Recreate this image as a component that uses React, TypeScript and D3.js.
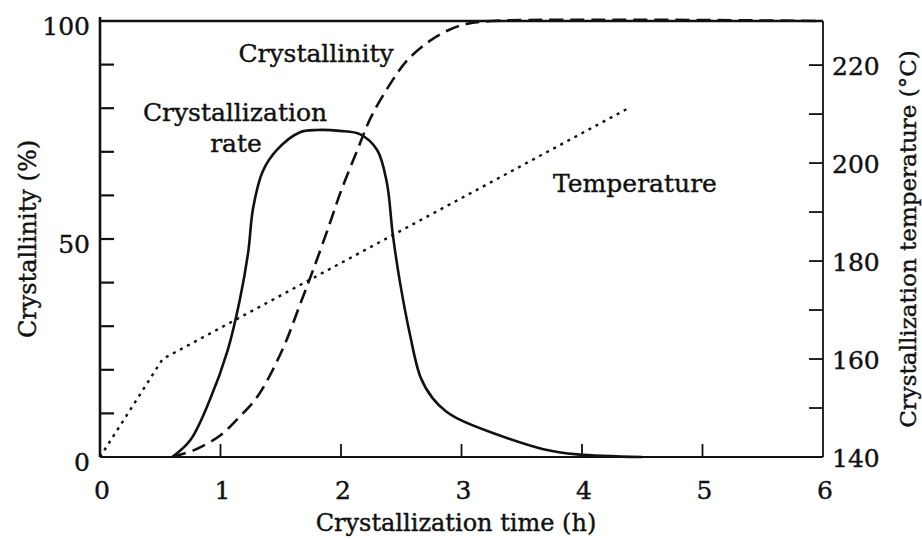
import React, { useEffect, useRef } from 'react';
import * as d3 from 'd3';

// x axis (h)
const timeTicks = [0, 1, 2, 3, 4, 5, 6];
// left axis (%)
const crystLabels = [0, 50, 100];
const crystMinor = [10, 20, 30, 40, 50, 60, 70, 80, 90];
// right axis (°C)
const tempLabels = [140, 160, 180, 200, 220];
const tempMinor = [150, 160, 170, 180, 190, 200, 210, 220];

// crystallinity, dashed
const crystTime = [0.6, 0.8, 1.0, 1.15, 1.31, 1.52, 1.66, 1.77, 1.9, 2.0, 2.13, 2.25, 2.43, 2.55, 2.74, 2.9, 3.04, 3.25, 6];
const crystValue = [0, 1.8, 5, 9, 14, 25, 35, 43, 53, 61, 70, 78, 86.5, 91, 95.5, 98, 99.3, 100, 100];

// crystallization rate, solid (same % scale)
const rateTime = [0.6, 0.75, 0.91, 1.06, 1.16, 1.23, 1.27, 1.35, 1.47, 1.66, 1.8, 1.99, 2.16, 2.3, 2.38, 2.43, 2.49, 2.57, 2.66, 2.76, 2.87, 2.99, 3.26, 3.68, 3.96, 4.5];
const rateValue = [0, 3.9, 13, 24.5, 36, 47, 57, 65.5, 70.5, 74.5, 75, 74.8, 74, 70.4, 63, 51, 40, 28.4, 18.3, 13.5, 10.5, 8.5, 5.5, 1.8, 0.6, 0];

// crystallization temperature, dotted
const tempTime = [0, 0.52, 4.37];
const tempValue = [140, 160, 211];

const W = 922;
const H = 540;
const font = '"DejaVu Serif", serif';

export default function App() {
  const svgRef = useRef<SVGSVGElement>(null);

  useEffect(() => {
    if (!svgRef.current) return;
    const svg = d3.select(svgRef.current);
    svg.selectAll('*').remove();

    const left = 100, right = 823, top = 21, bottom = 457;

    const x = d3.scaleLinear().domain([0, 6]).range([left, right]);
    const y = d3.scaleLinear().domain([0, 100]).range([bottom, top]);
    const yT = d3.scaleLinear().domain([140, 229]).range([bottom, top]);

    svg.append('rect').attr('width', W).attr('height', H).attr('fill', '#fff');

    const g = svg.append('g').attr('fill', 'none').attr('stroke', '#111');

    // frame
    g.append('line').attr('x1', left).attr('x2', left).attr('y1', top - 4).attr('y2', bottom).attr('stroke-width', 2.6);
    g.append('line').attr('x1', left).attr('x2', right).attr('y1', bottom).attr('y2', bottom).attr('stroke-width', 2.2);
    g.append('line').attr('x1', left).attr('x2', right).attr('y1', top).attr('y2', top).attr('stroke-width', 2.6);
    g.append('line').attr('x1', right).attr('x2', right).attr('y1', top).attr('y2', bottom).attr('stroke-width', 1.8);

    // inward ticks
    g.selectAll('.xt').data(timeTicks.slice(1, -1)).enter().append('line')
      .attr('x1', d => x(d)).attr('x2', d => x(d))
      .attr('y1', bottom).attr('y2', bottom - 13).attr('stroke-width', 1.8);
    g.selectAll('.yt').data(crystMinor).enter().append('line')
      .attr('x1', left).attr('x2', left + 14)
      .attr('y1', d => y(d)).attr('y2', d => y(d)).attr('stroke-width', 2.2);
    g.selectAll('.tt').data(tempMinor).enter().append('line')
      .attr('x1', right).attr('x2', right - 14)
      .attr('y1', d => yT(d)).attr('y2', d => yT(d)).attr('stroke-width', 1.8);

    // curves
    const line = d3.line<[number, number]>().curve(d3.curveCatmullRom.alpha(0.5));

    g.append('path')
      .attr('d', line(d3.zip(crystTime, crystValue).map(([t, v]) => [x(t), y(v)] as [number, number])))
      .attr('stroke-width', 2.6).attr('stroke-dasharray', '14,7');

    g.append('path')
      .attr('d', line(d3.zip(rateTime, rateValue).map(([t, v]) => [x(t), y(v)] as [number, number])))
      .attr('stroke-width', 2.6);

    g.append('path')
      .attr('d', d3.line()(d3.zip(tempTime, tempValue).map(([t, v]) => [x(t), yT(v)] as [number, number])))
      .attr('stroke-width', 2.4).attr('stroke-dasharray', '3,5');

    // text, slightly heavy like the printed original
    const txt = svg.append('g').attr('fill', '#111')
      .attr('stroke', '#111').attr('stroke-width', 0.4)
      .style('font-family', font).style('font-size', '25px');

    txt.selectAll('.xl').data(timeTicks).enter().append('text')
      .attr('x', d => x(d) + 2).attr('y', 499).attr('text-anchor', 'middle').text(d => d);
    txt.selectAll('.yl').data(crystLabels).enter().append('text')
      .attr('x', 90).attr('y', d => y(d) + 14).attr('text-anchor', 'end').text(d => d);
    txt.selectAll('.tl').data(tempLabels).enter().append('text')
      .attr('x', 832).attr('y', d => yT(d) + 10).text(d => d);

    // series labels
    txt.append('text').attr('x', 316).attr('y', 62).attr('text-anchor', 'middle').text('Crystallinity');
    txt.append('text').attr('x', 235).attr('y', 121).attr('text-anchor', 'middle').text('Crystallization');
    txt.append('text').attr('x', 236).attr('y', 152).attr('text-anchor', 'middle').text('rate');
    txt.append('text').attr('x', 635).attr('y', 192).attr('text-anchor', 'middle').text('Temperature');

    // axis titles
    txt.append('text').attr('x', 456).attr('y', 531).attr('text-anchor', 'middle')
      .style('font-size', '24px').text('Crystallization time (h)');
    txt.append('text').attr('transform', `translate(36,${(top + bottom) / 2}) rotate(-90)`)
      .attr('text-anchor', 'middle').style('font-size', '24px').text('Crystallinity (%)');
    txt.append('text').attr('transform', `translate(916,${(top + bottom) / 2}) rotate(-90)`)
      .attr('text-anchor', 'middle').style('font-size', '23px').text('Crystallization temperature (°C)');
  }, []);

  return (
    <svg ref={svgRef} width={W} height={H} style={{ position: 'absolute', left: 0, top: 0 }}></svg>
  );
}
